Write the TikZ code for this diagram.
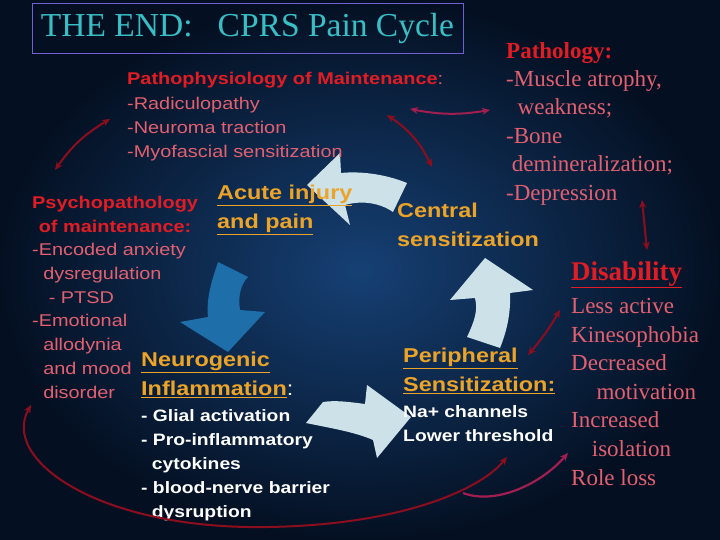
\documentclass[tikz,border=0pt]{standalone}
\usepackage{fontspec}
\setmainfont{Liberation Serif}
\newfontfamily\widesans{Liberation Sans}[FakeStretch=1.17]
\usetikzlibrary{arrows.meta}
\definecolor{navy}{RGB}{22,64,116}
\definecolor{deepnavy}{RGB}{4,16,34}
\definecolor{headred}{RGB}{226,28,36}
\definecolor{pinkred}{RGB}{226,96,112}
\definecolor{gold}{RGB}{236,164,40}
\definecolor{teal}{RGB}{56,190,196}
\definecolor{wine}{RGB}{140,14,30}
\definecolor{plum}{RGB}{160,30,80}
\definecolor{pale}{RGB}{205,225,232}
\definecolor{steel}{RGB}{30,110,170}
\begin{document}
\begin{tikzpicture}[x=1pt, y=-1pt,
    head/.style={font=\widesans\bfseries\fontsize{17}{24}\selectfont, text=headred, align=left, anchor=north west, inner sep=0pt},
    plain/.style={font=\widesans\fontsize{17}{23.8}\selectfont, text=pinkred, align=left, anchor=north west, inner sep=0pt},
    serifred/.style={font=\fontsize{23}{28.6}\selectfont, text=pinkred, align=left, anchor=north west, inner sep=0pt},
    stage/.style={font=\widesans\bfseries\fontsize{20}{29}\selectfont, text=gold, align=left, anchor=north west, inner sep=0pt},
    whitelist/.style={font=\widesans\bfseries\fontsize{16.5}{24}\selectfont, text=white, align=left, anchor=north west, inner sep=0pt},
    link/.style={wine, line width=2pt, {Stealth[length=8pt,width=7pt]}-{Stealth[length=8pt,width=7pt]}}]
    % background
    \shade[inner color=navy, outer color=deepnavy] (0,0) rectangle (720,540);
    \useasboundingbox (0,0) rectangle (720,540);
    % title
    \node[draw={rgb,255:red,112;green,96;blue,210}, line width=0.8pt, minimum width=431pt, minimum height=50pt,
          font=\fontsize{33.5}{35}\selectfont, text=teal] (title) at (247.5,28) {THE END:\ \ \ CPRS Pain Cycle};
    % four block arrows of the cycle
    \fill[pale] (407,183) .. controls (385,174) and (360,171) .. (341,173) -- (340,153) -- (307,185)
        -- (350,225) -- (345,205) .. controls (362,200) and (380,203) .. (393,212) -- cycle;
    \fill[steel] (218,262) .. controls (212,280) and (206,298) .. (208,317) -- (180,322) -- (228,352)
        -- (265,312) -- (240,310) .. controls (238,298) and (240,285) .. (248,277) -- cycle;
    \fill[pale] (306,423) .. controls (330,428) and (355,432) .. (373,440) -- (377,458) -- (411,417)
        -- (367,385) -- (365,404) .. controls (350,402) and (335,400) .. (323,402) -- cycle;
    \fill[pale] (467,337) .. controls (475,320) and (478,310) .. (475,298) -- (450,300) -- (485,258)
        -- (533,290) -- (510,293) .. controls (511,315) and (506,333) .. (500,348) -- cycle;
    % texts
    \node[head] (patho) at (127,72) {Pathophysiology of Maintenance{\color{pinkred}\mdseries:}};
    \node[plain] (pathoList) at (127,97) {-Radiculopathy\\-Neuroma traction\\-Myofascial sensitization};
    \node[font=\bfseries\fontsize{23}{28}\selectfont, text=headred, anchor=north west, inner sep=0pt] (patholog) at (506,42) {Pathology:};
    \node[serifred] (pathologList) at (506,70) {-Muscle atrophy,\\\ \ weakness;\\-Bone\\\ demineralization;\\-Depression};
    \node[head, align=center] (psycho) at (32,196) {Psychopathology\\of maintenance:};
    \node[plain] (psychoList) at (32,243) {-Encoded anxiety\\\ \ dysregulation\\\ \ \ - PTSD\\-Emotional\\\ \ allodynia\\\ \ and mood\\\ \ disorder};
    \node[stage] (acute) at (217,185) {\underline{Acute injury}\\\underline{and pain}};
    \node[stage] (central) at (397,203) {Central\\sensitization};
    \node[font=\bfseries\fontsize{27}{30}\selectfont, text=headred, anchor=base west, inner sep=0pt] (disab) at (571,280) {\underline{Disability}};
    \node[serifred] (disabList) at (571,298) {Less active\\Kinesophobia\\Decreased\\\hspace{1.1em}motivation\\Increased\\\hspace{0.9em}isolation\\Role loss};
    \node[stage] (periph) at (403,348) {\underline{Peripheral}\\\underline{Sensitization:}};
    \node[whitelist] (periphList) at (403,405) {Na+ channels\\Lower threshold};
    \node[stage] (neuro) at (141,352) {\underline{Neurogenic}\\\underline{Inflammation}{\color{white}\mdseries:}};
    \node[whitelist] (neuroList) at (141,409) {- Glial activation\\- Pro-inflammatory\\\ \ cytokines\\- blood-nerve barrier\\\ \ dysruption};
    % thin links
    \coordinate (a1) at (55,170);  \coordinate (a2) at (110,119);
    \coordinate (b1) at (410,109); \coordinate (b2) at (490,110);
    \coordinate (c1) at (387,115); \coordinate (c2) at (432,167);
    \coordinate (d1) at (642,200); \coordinate (d2) at (647,250);
    \coordinate (e1) at (560,310); \coordinate (e2) at (528,355);
    \coordinate (f1) at (31,405);  \coordinate (f2) at (507,457);
    \coordinate (g1) at (463,493); \coordinate (g2) at (568,453);
    \draw[link] (a1) to[bend left=12] (a2);
    \draw[link, plum] (b1) to[bend right=10] (b2);
    \draw[link] (c1) to[bend left=15] (c2);
    \draw[link] (d1) -- (d2);
    \draw[link] (e1) to[bend left=5] (e2);
    \draw[link] (f1) .. controls (0,460) and (100,530) .. (268,527) .. controls (400,525) and (480,490) .. (f2);
    \draw[plum, line width=2.2pt, -{Stealth[length=8pt,width=7pt]}] (g1) .. controls (495,505) and (540,485) .. (g2);
\end{tikzpicture}
\end{document}
